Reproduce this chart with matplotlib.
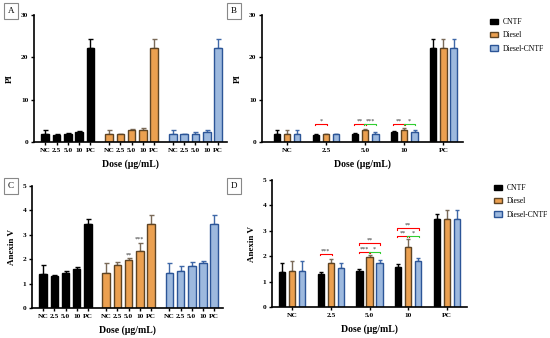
import numpy as np
import matplotlib
matplotlib.use('Agg')
import matplotlib.pyplot as plt
from matplotlib.patches import Patch

plt.rcParams['font.family'] = ['Liberation Serif', 'DejaVu Serif']

doses = ['NC', '2.5', '5.0', '10', 'PC']
series = ['CNTF', 'Diesel', 'Diesel-CNTF']

# PI (mean, upper error)
pi_cntf = [1.8, 1.6, 2.0, 2.3, 22.3]
pi_cntf_err = [1.0, 0.2, 0.2, 0.3, 2.1]
pi_diesel = [1.8, 1.8, 2.8, 2.9, 22.3]
pi_diesel_err = [1.0, 0.1, 0.2, 0.3, 2.1]
pi_dcntf = [1.8, 1.8, 2.0, 2.4, 22.3]
pi_dcntf_err = [1.0, 0.1, 0.3, 0.4, 2.1]

# Annexin V (mean, upper error)
an_cntf = [1.38, 1.30, 1.42, 1.58, 3.45]
an_cntf_err = [0.37, 0.07, 0.08, 0.10, 0.20]
an_diesel = [1.42, 1.75, 1.97, 2.35, 3.45]
an_diesel_err = [0.41, 0.15, 0.06, 0.33, 0.37]
an_dcntf = [1.42, 1.52, 1.73, 1.83, 3.45]
an_dcntf_err = [0.41, 0.21, 0.14, 0.10, 0.37]

faces = ['#000000', '#EBA050', '#9DB9DE']
edges = ['#000000', '#5E4424', '#2C5597']
err_cols = ['#000000', '#7A6A58', '#3F68A8']

# significance brackets: (group, bar_a, bar_b, height, label, colour)
pi_sig = [(1, 0, 1, 4.3, '*', 'red'),
          (2, 0, 1, 4.3, '**', 'red'), (2, 1, 2, 4.3, '***', 'limegreen'),
          (3, 0, 1, 4.3, '**', 'red'), (3, 1, 2, 4.3, '*', 'limegreen')]
an_sig = [(1, 0, 1, 2.09, '***', 'red'),
          (2, 0, 1, 2.17, '***', 'red'), (2, 1, 2, 2.17, '*', 'limegreen'),
          (2, 0, 2, 2.52, '**', 'red'),
          (3, 0, 1, 2.80, '**', 'red'), (3, 1, 2, 2.80, '*', 'limegreen'),
          (3, 0, 2, 3.11, '**', 'red')]
an_stars = [(2, 2.07, '**'), (3, 2.72, '***')]

W, H = 550, 338
fig = plt.figure(figsize=(W / 100, H / 100), dpi=100)


def px_axes(x0, y0, x1, y1):
    return fig.add_axes([x0 / W, 1 - y1 / H, (x1 - x0) / W, (y1 - y0) / H])


def style(ax, ylabel, ymax, step):
    for s in ['top', 'right']:
        ax.spines[s].set_visible(False)
    for s in ['left', 'bottom']:
        ax.spines[s].set_linewidth(1.2)
    ax.set_ylim(0, ymax)
    ax.set_yticks(np.arange(0, ymax + 0.01, step))
    ax.tick_params(axis='both', labelsize=5.3, length=2.5, width=1, pad=1.5)
    for lab in ax.get_yticklabels() + ax.get_xticklabels():
        lab.set_fontweight('bold')
    ax.set_ylabel(ylabel, fontsize=6.5, fontweight='bold', labelpad=5)
    ax.set_xlabel('Dose (µg/mL)', fontsize=7, fontweight='bold', labelpad=5)


def separate(ax, data, errs, ymax, step, ylabel):
    pos = []
    for k in range(3):
        x = np.arange(5) + k * 5.65
        ax.bar(x, data[k], width=0.68, color=faces[k], edgecolor=edges[k], linewidth=1, zorder=2)
        ax.errorbar(x, data[k], yerr=[np.zeros(5), errs[k]], fmt='none', ecolor=err_cols[k],
                    elinewidth=1, capsize=1.8, capthick=1, zorder=1)
        pos.extend(x)
    ax.set_xticks(pos)
    ax.set_xticklabels(doses * 3)
    ax.set_xlim(-1.0, 16.1)
    style(ax, ylabel, ymax, step)


def grouped(ax, data, errs, ymax, step, ylabel, sigs, xlim):
    g = np.arange(5)
    offs = [-0.26, 0, 0.26]
    for k in range(3):
        ax.bar(g + offs[k], data[k], width=0.16, color=faces[k], edgecolor=edges[k],
               linewidth=1, zorder=2)
        ax.errorbar(g + offs[k], data[k], yerr=[np.zeros(5), errs[k]], fmt='none',
                    ecolor=err_cols[k], elinewidth=1, capsize=1.5, capthick=1, zorder=1)
    ax.set_xticks(g)
    ax.set_xticklabels(doses)
    ax.set_xlim(*xlim)
    style(ax, ylabel, ymax, step)
    tick = ymax * 0.012
    for grp, a, b, y, txt, col in sigs:
        xa, xb = grp + offs[a] - 0.02, grp + offs[b] + 0.02
        ax.plot([xa, xa, xb, xb], [y - tick, y, y, y - tick], color=col, lw=0.8, zorder=3)
        ax.text((xa + xb) / 2, y, txt, ha='center', va='bottom', fontsize=4.5, color='#333333')


def panel_label(x, y, txt):
    fig.text(x / W, 1 - y / H, txt, fontsize=6.5, ha='center', va='center',
             bbox=dict(boxstyle='square,pad=0.45', fc='white', ec='#888888', lw=0.8))


def legend(ax, x, y):
    handles = [Patch(facecolor=faces[k], edgecolor=edges[k], linewidth=1, label=series[k])
               for k in range(3)]
    fig.legend(handles=handles, loc='upper left', bbox_to_anchor=(x / W, 1 - y / H),
               frameon=False, fontsize=5.5, handlelength=1.0, handleheight=0.7,
               labelspacing=0.7, handletextpad=0.7, borderaxespad=0)


axA = px_axes(34, 15, 227, 142)
separate(axA, [pi_cntf, pi_diesel, pi_dcntf], [pi_cntf_err, pi_diesel_err, pi_dcntf_err],
         30, 10, 'PI')

axB = px_axes(262, 15, 463, 142)
grouped(axB, [pi_cntf, pi_diesel, pi_dcntf], [pi_cntf_err, pi_diesel_err, pi_dcntf_err],
        30, 10, 'PI', pi_sig, (-0.64, 4.5))
legend(axB, 487, 15)

axC = px_axes(32, 186, 223, 308)
separate(axC, [an_cntf, an_diesel, an_dcntf], [an_cntf_err, an_diesel_err, an_dcntf_err],
         5, 1, 'Anexin V')
for grp, y, txt in an_stars:
    axC.text(5.65 + grp, y, txt, ha='center', va='bottom', fontsize=4.5, color='#333333')

axD = px_axes(272, 180, 467, 307)
grouped(axD, [an_cntf, an_diesel, an_dcntf], [an_cntf_err, an_diesel_err, an_dcntf_err],
        5, 1, 'Anexin V', an_sig, (-0.52, 4.52))
legend(axD, 491, 181)

panel_label(11, 11, 'A')
panel_label(234, 11, 'B')
panel_label(11, 186, 'C')
panel_label(234, 186, 'D')

fig.savefig('out.png', dpi=100)
